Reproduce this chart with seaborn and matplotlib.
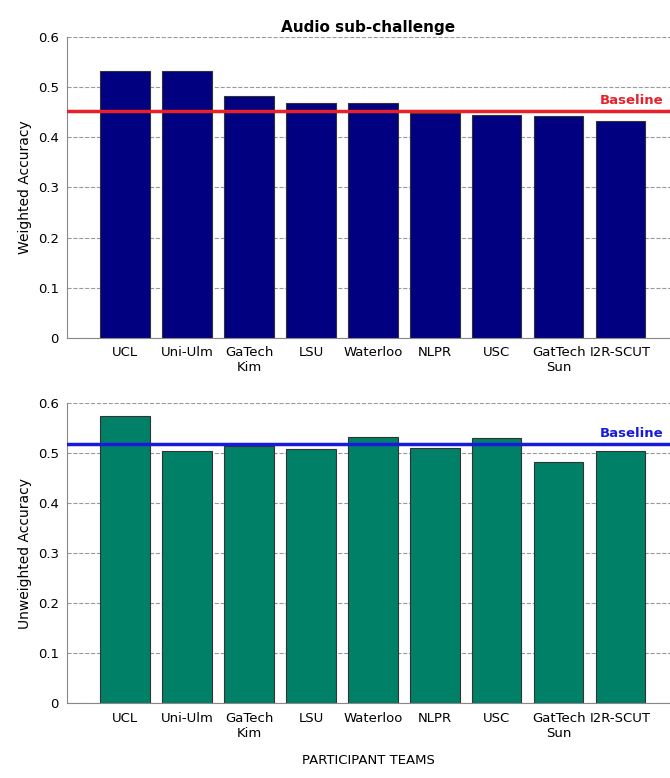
import numpy as np
import pandas as pd
import seaborn as sns
import matplotlib.pyplot as plt

teams = ['UCL', 'Uni-Ulm', 'GaTech\nKim', 'LSU', 'Waterloo', 'NLPR', 'USC', 'GatTech\nSun', 'I2R-SCUT']
weighted = [0.532, 0.532, 0.482, 0.468, 0.468, 0.449, 0.444, 0.442, 0.432]
unweighted = [0.574, 0.504, 0.515, 0.508, 0.533, 0.510, 0.531, 0.482, 0.505]
base_w = 0.452
base_u = 0.518

sns.set_style('white')
plt.rcParams['font.family'] = ['DejaVu Sans']
plt.rcParams['text.color'] = 'black'
plt.rcParams['axes.labelcolor'] = 'black'
plt.rcParams['xtick.color'] = 'black'
plt.rcParams['ytick.color'] = 'black'

fig = plt.figure(figsize=(6.7, 7.78), dpi=100)
ax1 = fig.add_axes([0.1, 0.566, 0.9, 0.386])
ax2 = fig.add_axes([0.1, 0.096, 0.9, 0.386])

def panel(ax, vals, color, base, bcolor, ylabel):
    df = pd.DataFrame({'team': teams, 'acc': vals})
    sns.barplot(data=df, x='team', y='acc', color=color, width=0.8,
                edgecolor='#333333', linewidth=0.8, saturation=1, ax=ax, zorder=2)
    ax.set_xlim(-0.94, 8.8)
    ax.set_ylim(0, 0.6)
    ax.set_yticks(np.arange(0, 0.61, 0.1))
    ax.set_yticklabels(['0', '0.1', '0.2', '0.3', '0.4', '0.5', '0.6'])
    ax.yaxis.grid(True, linestyle='--', color='#999999', linewidth=0.8, zorder=0)
    ax.set_axisbelow(True)
    for s in ['top', 'right']:
        ax.spines[s].set_visible(False)
    for s in ['left', 'bottom']:
        ax.spines[s].set_color('#888888')
    ax.tick_params(axis='both', labelsize=9.5, length=0, pad=6)
    ax.set_ylabel(ylabel, fontsize=10)
    ax.set_xlabel('')
    ax.axhline(base, color=bcolor, linewidth=2.5, zorder=3)
    ax.text(8.7, base + 0.008, 'Baseline', color=bcolor, fontsize=9.5,
            fontweight='bold', ha='right', va='bottom')

panel(ax1, weighted, '#000080', base_w, '#e8202a', 'Weighted Accuracy')
panel(ax2, unweighted, '#008066', base_u, '#1a1adc', 'Unweighted Accuracy')
ax1.set_title('Audio sub-challenge', fontsize=11, fontweight='bold', pad=4)
ax2.set_xlabel('PARTICIPANT TEAMS', fontsize=9.5, labelpad=10)

fig.savefig('out.png', dpi=100)
